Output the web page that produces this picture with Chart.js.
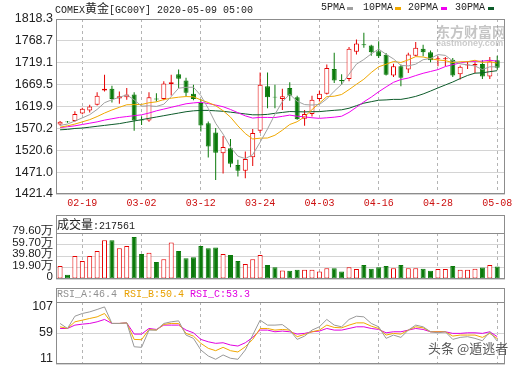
<!DOCTYPE html>
<html><head><meta charset="utf-8">
<script src="https://cdn.jsdelivr.net/npm/chart.js@4/dist/chart.umd.min.js"></script>
<style>
body{margin:0;background:#fff;}
#wrap{position:relative;width:520px;height:365px;overflow:hidden;background:#fff;}
canvas{position:absolute;left:0;}
.t{position:absolute;white-space:nowrap;font-family:'Liberation Mono','DejaVu Sans Mono',monospace;font-size:10px;line-height:12px;z-index:2;}
.cjk{font-family:'Noto Sans CJK SC';font-size:12px;line-height:12px;}
.mk{position:absolute;width:6px;height:3px;z-index:2;}
</style></head><body>
<div id="wrap">
<canvas id="c1" width="520" height="212" style="top:0"></canvas>
<canvas id="c2" width="520" height="70" style="top:212px"></canvas>
<canvas id="c3" width="520" height="81" style="top:284px"></canvas>

<div class="t" style="left:55px;top:2px;color:#222">COMEX<span class="cjk">黄金</span>[GC00Y] 2020-05-09 05:00</div>
<div class="t" style="left:321px;top:2px;color:#222">5PMA</div><div class="mk" style="left:347px;top:7px;background:#a0a0a0"></div>
<div class="t" style="left:363px;top:2px;color:#222">10PMA</div><div class="mk" style="left:395px;top:7px;background:#f0a800"></div>
<div class="t" style="left:408px;top:2px;color:#222">20PMA</div><div class="mk" style="left:441px;top:7px;background:#f000f0"></div>
<div class="t" style="left:455px;top:2px;color:#222">30PMA</div><div class="mk" style="left:488px;top:7px;background:#0d5b2a"></div>

<div class="t" style="left:436px;top:23px;font-family:'Noto Sans CJK SC';font-size:14px;line-height:16px;font-weight:bold;color:rgba(150,150,150,0.55)">东方财富网</div>
<div class="t" style="left:436px;top:38px;font-family:'Liberation Sans';font-size:9px;line-height:10px;font-weight:bold;color:rgba(150,150,150,0.5)">eastmoney.com</div>

<div class="t" style="left:57px;top:218px;color:#222"><span class="cjk">成交量</span>:217561</div>

<div class="t" style="left:57px;top:289px;color:#909090">RSI_A:46.4</div>
<div class="t" style="left:124px;top:289px;color:#e8a000">RSI_B:50.4</div>
<div class="t" style="left:190px;top:289px;color:#e000e0">RSI_C:53.3</div>

<div class="t" style="left:428px;top:340px;font-family:'Noto Sans CJK SC';font-size:13px;line-height:16px;color:#555;text-shadow:0 0 2px #fff">头条 @遁逃者</div>
</div>
<script>
// ---------- data ----------
const dates = ['02-14','02-17','02-18','02-19','02-20','02-21','02-24','02-25','02-26','02-27','02-28','03-02','03-03','03-04','03-05','03-06','03-09','03-10','03-11','03-12','03-13','03-16','03-17','03-18','03-19','03-20','03-23','03-24','03-25','03-26','03-27','03-30','03-31','04-01','04-02','04-03','04-06','04-07','04-08','04-09','04-13','04-14','04-15','04-16','04-17','04-20','04-21','04-22','04-23','04-24','04-27','04-28','04-29','04-30','05-01','05-04','05-05','05-06','05-07','05-08'];
const axisDates = ['02-19','03-02','03-12','03-24','04-03','04-16','04-28','05-08'];

const open  = [1579,1586,1587,1604,1611,1624,1656,1660,1638,1641,1647,1590,1588,1638,1637,1671,1693,1679,1649,1628,1582,1561,1514,1525,1487,1474,1505,1565,1666,1642,1637,1662,1641,1592,1603,1637,1649,1705,1680,1682,1744,1761,1758,1745,1737,1690,1711,1704,1735,1751,1743,1727,1727,1726,1693,1713,1713,1716,1688,1725];
const high  = [1587,1587,1609,1617,1624,1652,1692,1667,1654,1662,1652,1597,1652,1650,1677,1692,1704,1685,1669,1637,1586,1571,1553,1546,1499,1518,1569,1697,1697,1669,1660,1675,1644,1612,1644,1656,1715,1742,1693,1755,1772,1787,1760,1768,1741,1717,1715,1742,1766,1760,1747,1734,1732,1730,1713,1722,1720,1725,1732,1735];
const low   = [1577,1583,1585,1602,1606,1622,1654,1629,1626,1635,1565,1578,1585,1631,1634,1645,1662,1643,1634,1563,1504,1453,1468,1482,1461,1457,1485,1560,1616,1616,1612,1633,1590,1576,1597,1631,1647,1673,1669,1677,1738,1753,1735,1730,1690,1687,1666,1696,1734,1734,1720,1711,1711,1687,1681,1705,1696,1682,1682,1703];
const close = [1585,1584,1603,1615,1620,1644,1660,1637,1643,1647,1588,1588,1641,1636,1672,1675,1683,1651,1637,1577,1529,1515,1528,1490,1474,1501,1560,1669,1641,1640,1643,1644,1591,1603,1635,1649,1707,1679,1677,1751,1763,1759,1743,1734,1692,1711,1685,1738,1753,1743,1725,1729,1729,1690,1710,1715,1716,1688,1722,1708];

const ma5  = [1577,1580,1587,1594,1601.4,1613.2,1628.4,1635.2,1640.8,1646.2,1635.0,1620.6,1621.4,1620.0,1625.0,1642.4,1661.4,1663.4,1663.6,1644.6,1615.4,1581.8,1557.2,1527.8,1507.2,1501.6,1510.6,1538.8,1569.0,1602.2,1630.6,1647.4,1631.8,1624.2,1623.2,1624.4,1637.0,1654.6,1670.0,1693.2,1716.0,1726.4,1739.2,1750.0,1738.2,1727.8,1713.0,1712.0,1715.8,1726.0,1728.8,1737.6,1735.8,1723.2,1716.6,1714.4,1711.8,1703.6,1710.0,1709.6];
const ma10 = [1573,1576,1580,1585,1590,1597,1605,1612,1618,1623.8,1624.1,1624.5,1628.3,1630.4,1635.6,1638.7,1641.0,1642.4,1641.8,1634.8,1628.9,1621.6,1610.3,1595.7,1575.9,1558.5,1546.2,1548.0,1548.4,1554.7,1566.1,1579.0,1585.3,1596.6,1612.7,1627.5,1642.2,1643.2,1647.1,1658.2,1670.2,1681.7,1696.9,1710.0,1715.7,1721.9,1719.7,1725.6,1732.9,1732.1,1728.3,1725.3,1723.9,1719.5,1721.3,1721.6,1724.7,1719.7,1721.6,1718.1];
const ma20 = [1572,1574,1576,1579,1582,1585,1589,1592,1595,1597,1599,1601,1605,1610,1614,1618,1622,1626,1628,1629.3,1626.5,1623.1,1619.3,1613.1,1605.8,1598.6,1593.6,1595.2,1595.1,1594.8,1597.5,1600.3,1597.8,1596.2,1594.3,1593.0,1594.2,1595.6,1597.8,1606.5,1618.2,1630.4,1641.1,1653.3,1664.2,1674.7,1681.0,1684.4,1690.0,1695.2,1699.3,1703.5,1710.4,1714.8,1718.5,1721.8,1722.2,1722.7,1724.8,1722.6];
const ma30 = [1567,1568,1570,1571,1573,1575,1577,1579,1581,1584,1587,1590,1593,1596,1599,1602,1605,1608,1610,1611,1611,1610,1609,1607,1605,1603,1601,1601,1602,1604.4,1606.4,1608.4,1608.0,1607.6,1608.1,1608.2,1609.8,1611.2,1612.4,1615.9,1621.7,1627.4,1630.8,1634.1,1634.8,1636.0,1636.0,1638.9,1642.8,1648.3,1654.9,1662.0,1668.7,1675.4,1683.2,1690.3,1695.5,1696.2,1698.9,1701.1];

const volume = [22.7,7.3,39.8,31.3,39.8,48.3,67.1,67.1,53.0,56.9,72.8,43.2,45.5,29.6,34.2,63.2,48.3,35.9,37.6,56.9,53.0,54.7,43.2,41.5,31.3,26.1,34.2,41.5,24.4,20.5,14.7,14.2,15.9,15.9,15.9,13.0,18.8,18.8,13.0,20.5,17.1,24.4,17.6,20.5,22.7,18.8,24.4,18.8,18.8,17.6,14.2,17.1,17.1,22.7,15.9,15.9,17.6,19.8,24.4,21.76];

const rsiA = [73.8,66,85,89.2,91.7,95.4,99.4,73.8,73.8,74.7,37.7,36.8,63.5,63.5,73.8,76.3,77.8,55.8,50.7,32.7,23.4,18.3,25,19.9,18.3,32.7,55.8,78.9,71.2,71.2,72,63.5,49.1,54.2,63.5,68.6,80,71.2,68.6,80,85,84,73.8,68.6,50.7,55.8,52.2,63.5,71.2,68.6,60.9,59.3,60.9,49.1,52.2,53.3,50.7,47,60.9,46.4];
const rsiB = [68.6,66,76.3,78.9,81.5,84,89.2,73.8,73.8,74.7,49.1,48.6,64.5,63.5,72.3,73.8,73.8,58.4,54.2,43,35.3,31.6,36.8,31.6,29.6,37.7,49.1,66,66,63.5,64.5,63.5,53.3,56.8,60.9,63.5,71.2,67.6,67,71.2,74.7,74.7,69.6,66,55.8,58.4,57.3,63.5,68.6,67,60.9,60.9,60.9,54.2,55.8,55.8,55.8,52.2,58.4,50.4];
const rsiC = [66,66,71.2,72.7,73.8,76.3,80,73.8,73.8,74.7,57.3,57.3,66,64.5,71.2,71.2,71.2,63.5,59.3,49.1,45.4,43,43.9,40.4,38.8,43.9,52.2,63.5,63.5,60.9,62,60.9,57.3,58.4,60.9,62,66,63.5,63.5,66,68.6,68.6,66,64.5,59.3,60.9,60.9,63.5,66,64.5,60.9,60.9,60.9,58.4,58.4,59.3,59.3,58.4,60.9,53.3];

const priceTicks = [1421.4,1471.0,1520.6,1570.2,1619.9,1669.5,1719.1,1768.7,1818.3];
const volTicks = [0,19.9,39.8,59.7,79.6];
const rsiTicks = [11,59,107];

// ---------- styles ----------
const RED = '#e60000', GREEN = '#0b7a0b';
const MONO = "'Liberation Mono','DejaVu Sans Mono',monospace";
const SANS = "'Liberation Sans',Arial,sans-serif";
Chart.defaults.font.family = SANS;
Chart.defaults.devicePixelRatio = 1;

const tickIdx = axisDates.map(d => dates.indexOf(d));
const up = close.map((c,i) => c >= open[i]);
const pts = arr => arr.map((v,i) => ({x:i, y:v}));

const boxPlugin = {
  id:'box',
  afterDraw(chart, args, opts){
    const {ctx, chartArea:a} = chart;
    const band = opts.band || 0;
    ctx.save();
    ctx.strokeStyle = '#8c8c8c'; ctx.lineWidth = 1;
    const l = Math.round(a.left)+0.5, r = Math.round(a.right)-0.5;
    const t = Math.round(a.top - band)+0.5, b = Math.round(a.bottom)-0.5;
    ctx.strokeRect(l, t, r-l, b-t);
    if (band) { ctx.beginPath(); ctx.moveTo(l, Math.round(a.top)+0.5); ctx.lineTo(r, Math.round(a.top)+0.5); ctx.stroke(); }
    ctx.restore();
  }
};

function xAxis(showLabels, h){
  return {
    type:'linear', bounds:'data', min:-0.55, max:60.05, offset:false,
    afterBuildTicks: s => { s.ticks = tickIdx.map(v => ({value:v})); },
    afterFit: s => { s.height = h; s.paddingLeft = 0; s.paddingRight = 0; },
    ticks:{display:showLabels, autoSkip:false, maxRotation:0, minRotation:0, padding:3,
           color:'#cc1010', font:{family:MONO, size:10}, callback: v => dates[v]},
    grid:{color:'#b4b4b4', drawTicks:false, offset:false, lineWidth:1},
    border:{display:false, dash:[3,3]}
  };
}
function yAxis(min, max, ticks, fmt, size, labelOffset){
  return {
    type:'linear', bounds:'data', min, max,
    afterBuildTicks: s => { s.ticks = ticks.map(v => ({value:v})); },
    afterFit: s => { s.width = 56; s.paddingTop = 0; s.paddingBottom = 0; },
    ticks:{padding:3, autoSkip:false, color:'#222', font:{family:SANS, size, lineHeight:'10px'}, labelOffset: labelOffset||0, callback: fmt},
    grid:{color:'#d4d4d4', drawTicks:false, lineWidth:1},
    border:{display:false}
  };
}
const common = {
  responsive:false, animation:false, events:[],
  plugins:{legend:{display:false}, tooltip:{enabled:false}}
};

function line(data, color, order){
  return {type:'line', data:pts(data), borderColor:color, borderWidth:1, pointRadius:0, fill:false, tension:0, order};
}

// ---------- main candlestick chart ----------
new Chart(document.getElementById('c1'), {
  type:'bar',
  data:{datasets:[
    line(ma5,  '#a0a0a0', 0),
    line(ma10, '#f0a800', 0),
    line(ma20, '#f000f0', 0),
    line(ma30, '#0d5b2a', 0),
    {type:'bar', data:dates.map((d,i)=>({x:i, y:[open[i], close[i]]})), grouped:false, maxBarThickness:5,
     backgroundColor: up.map(u => u ? '#ffffff' : GREEN), borderColor: up.map(u => u ? RED : GREEN),
     borderWidth:1, borderSkipped:false, order:5},
    {type:'bar', data:dates.map((d,i)=>({x:i, y:[low[i], high[i]]})), grouped:false, maxBarThickness:1,
     backgroundColor: up.map(u => u ? RED : GREEN), borderWidth:0, order:6}
  ]},
  options:{...common,
    layout:{padding:{top:19, right:15, bottom:0, left:0}},
    scales:{ x: xAxis(true, 18),
             y: yAxis(1421.4, 1818.3, priceTicks, v => v.toFixed(1), 12.5) },
    plugins:{...common.plugins, box:{band:0}}
  },
  plugins:[boxPlugin]
});

// ---------- volume chart ----------
new Chart(document.getElementById('c2'), {
  type:'bar',
  data:{datasets:[
    {data:volume.map((v,i)=>({x:i, y:v})), grouped:false, maxBarThickness:5,
     backgroundColor: up.map(u => u ? '#ffffff' : GREEN), borderColor: up.map(u => u ? RED : GREEN),
     borderWidth:1, borderSkipped:false}
  ]},
  options:{...common,
    layout:{padding:{top:21, right:15, bottom:0, left:0}},
    scales:{ x: xAxis(false, 3),
             y: yAxis(0, 79.6, volTicks, v => v === 0 ? '0' : v.toFixed(2) + '万', 11.5, -2) },
    plugins:{...common.plugins, box:{band:18}}
  },
  plugins:[boxPlugin]
});

// ---------- RSI chart ----------
new Chart(document.getElementById('c3'), {
  type:'line',
  data:{datasets:[
    line(rsiC, '#e000e0', 2),
    line(rsiB, '#f0a800', 1),
    line(rsiA, '#999999', 0)
  ]},
  options:{...common,
    layout:{padding:{top:18, right:15, bottom:0, left:0}},
    scales:{ x: xAxis(false, 1),
             y: yAxis(11, 107, rsiTicks, v => v === 107 ? ['', '107'] : (v === 11 ? ['11', ''] : String(v)), 12.5) },
    plugins:{...common.plugins, box:{band:14}}
  },
  plugins:[boxPlugin]
});
</script>
</body></html>
